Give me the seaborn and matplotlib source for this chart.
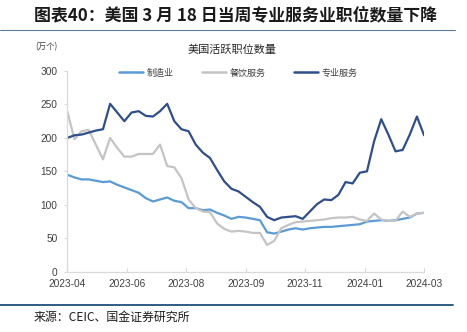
import numpy as np
import pandas as pd
import matplotlib
matplotlib.use("Agg")
import matplotlib.pyplot as plt
import seaborn as sns
from matplotlib.lines import Line2D

# ---------------- data ----------------
dates = pd.date_range("2023-04-03", periods=51, freq="W-MON")  # through 2024-03-18

manufacturing = [145, 141, 138, 138, 136, 134, 135, 130, 126, 122,
                 118, 110, 105, 108, 111, 106, 104, 95, 95, 92,
                 93, 88, 84, 79, 82, 81, 79, 77, 59, 57,
                 60, 63, 65, 63, 65, 66, 67, 67, 68, 69,
                 70, 71, 75, 76, 77, 76, 77, 79, 81, 87, 88]

food_service = [240, 198, 210, 212, 190, 168, 200, 185, 172, 172,
                176, 176, 176, 190, 158, 156, 140, 108, 95, 90,
                89, 72, 64, 60, 61, 60, 58, 58, 40, 46,
                65, 70, 74, 75, 76, 77, 78, 80, 81, 81,
                82, 78, 76, 87, 78, 76, 76, 90, 82, 87, 88]

professional = [200, 204, 205, 208, 211, 213, 251, 238, 225, 238,
                240, 233, 232, 240, 251, 225, 213, 210, 190, 178,
                170, 152, 135, 124, 120, 112, 104, 97, 82, 77,
                81, 82, 83, 79, 90, 101, 108, 107, 115, 134,
                132, 148, 150, 195, 228, 205, 180, 182, 205, 232, 204]

series_names = ["制造业", "餐饮服务", "专业服务"]
series_colors = ["#5B9BD5", "#C4C4C4", "#2F4E8C"]
tick_labels = ["2023-04", "2023-06", "2023-08", "2023-09", "2023-11", "2024-01", "2024-03"]
y_ticks = [0, 50, 100, 150, 200, 250, 300]

df = pd.DataFrame({
    "date": list(dates) * 3,
    "value": manufacturing + food_service + professional,
    "series": [series_names[0]] * 51 + [series_names[1]] * 51 + [series_names[2]] * 51,
})

# ---------------- style ----------------
sns.set_theme(style="white")
plt.rcParams["font.family"] = ["Noto Sans CJK SC", "DejaVu Sans"]
plt.rcParams["axes.unicode_minus"] = False

fig = plt.figure(figsize=(4.67, 3.32), dpi=100)
ax = fig.add_axes([0.1441, 0.1816, 0.908 - 0.1441, 0.786 - 0.1816])

sns.lineplot(data=df, x="date", y="value", hue="series",
             hue_order=series_names, palette=series_colors,
             linewidth=1.6, legend=False, ax=ax)
for ln in ax.get_lines():
    ln.set_solid_joinstyle("round")
    ln.set_solid_capstyle("round")

ax.set_xlim(dates[0], dates[-1])
ax.set_ylim(0, 300)
ax.set_yticks(y_ticks)
ax.set_yticklabels([str(v) for v in y_ticks])

x0 = matplotlib.dates.date2num(dates[0])
x1 = matplotlib.dates.date2num(dates[-1])
ax.set_xticks(np.linspace(x0, x1, len(tick_labels)))
ax.set_xticklabels(tick_labels)

ax.set_xlabel("")
ax.set_ylabel("")
for s in ["top", "right"]:
    ax.spines[s].set_visible(False)
for s in ["left", "bottom"]:
    ax.spines[s].set_color("#D9D9D9")
    ax.spines[s].set_linewidth(0.9)

ax.tick_params(axis="x", direction="in", length=3, width=0.8, color="#D9D9D9",
               labelsize=7.3, labelcolor="#404040", pad=5, bottom=True)
ax.tick_params(axis="y", direction="out", length=2, width=0.8, color="#D9D9D9",
               labelsize=7.3, labelcolor="#404040", pad=5, left=True)
for lab in ax.get_xticklabels() + ax.get_yticklabels():
    lab.set_family(["Liberation Sans", "DejaVu Sans"])

# legend
handles = [Line2D([0], [0], color=c, lw=1.8) for c in series_colors]
fig.legend(handles, series_names, loc="center", bbox_to_anchor=(0.51, 0.780),
           ncol=3, frameon=False, fontsize=6.5, handlelength=2.6,
           handletextpad=0.4, columnspacing=3.2,
           labelcolor="#404040")

# texts
fig.text(0.072, 0.955, "图表40：美国 3 月 18 日当周专业服务业职位数量下降",
         fontsize=12.2, fontweight="bold", color="#1A1A1A", va="center", ha="left")
fig.add_artist(Line2D([0.0, 0.974], [0.909, 0.909], color="#5E7C99", lw=0.8,
                      transform=fig.transFigure))
fig.text(0.075, 0.858, "(万个)", fontsize=6, color="#404040", va="center", ha="left")
fig.text(0.497, 0.849, "美国活跃职位数量", fontsize=8, color="#262626",
         va="center", ha="center")
fig.add_artist(Line2D([0.0, 0.97], [0.0813, 0.0813], color="#1F4E79", lw=1.3,
                      transform=fig.transFigure))
fig.text(0.071, 0.045, "来源：CEIC、国金证券研究所", fontsize=8.6, color="#1A1A1A",
         va="center", ha="left")

fig.savefig("out.png", dpi=100)
